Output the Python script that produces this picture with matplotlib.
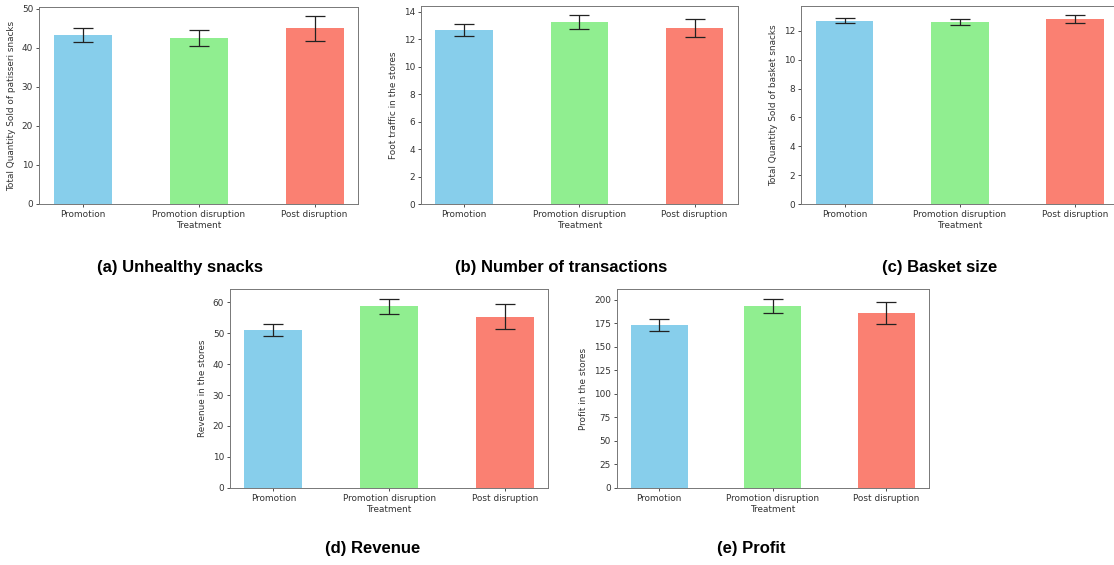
import matplotlib
matplotlib.use("Agg")
import matplotlib.pyplot as plt

# Treatment groups shared by every panel
treatments = ["Promotion", "Promotion disruption", "Post disruption"]
bar_colors = ["skyblue", "lightgreen", "salmon"]

# Means and standard errors per treatment
snacks_mean = [43.4, 42.5, 45.0]
snacks_err = [1.75, 2.05, 3.1]

transactions_mean = [12.7, 13.25, 12.8]
transactions_err = [0.43, 0.5, 0.67]

basket_mean = [12.7, 12.62, 12.8]
basket_err = [0.17, 0.2, 0.27]

revenue_mean = [51.0, 58.7, 55.4]
revenue_err = [2.0, 2.5, 3.95]

profit_mean = [172.5, 193.0, 185.7]
profit_err = [6.4, 7.8, 12.0]

W, H = 1114, 565
fig = plt.figure(figsize=(W / 100, H / 100), dpi=100)


def px_axes(left, right, top, bottom):
    return fig.add_axes([left / W, 1 - bottom / H, (right - left) / W, (bottom - top) / H])


def draw_panel(ax, means, errs, ylabel):
    x = list(range(len(treatments)))
    ax.bar(x, means, width=0.5, color=bar_colors,
           yerr=errs, capsize=7,
           error_kw=dict(ecolor="#222222", elinewidth=0.9, capthick=0.9))
    ax.set_xticks(x)
    ax.set_xticklabels(treatments)
    ax.set_xlabel("Treatment", fontsize=6.4, labelpad=1.5, color="#333333")
    ax.set_ylabel(ylabel, fontsize=6.4, labelpad=4, color="#333333")
    ax.tick_params(labelsize=6.4, length=2.3, width=0.6, pad=2, colors="#333333")
    for s in ax.spines.values():
        s.set_linewidth(0.7)
        s.set_color("#777777")


panels = [
    ((39, 358, 7, 204), snacks_mean, snacks_err, "Total Quantity Sold of patisseri snacks"),
    ((421, 737.7, 5.7, 204.3), transactions_mean, transactions_err, "Foot traffic in the stores"),
    ((801.3, 1118.5, 5.7, 204.3), basket_mean, basket_err, "Total Quantity Sold of basket snacks"),
    ((230, 548.3, 289.3, 487.7), revenue_mean, revenue_err, "Revenue in the stores"),
    ((616.7, 929, 289.3, 487.7), profit_mean, profit_err, "Profit in the stores"),
]

for box, m, e, lab in panels:
    ax = px_axes(*box)
    draw_panel(ax, m, e, lab)

captions = [
    ("(a) Unhealthy snacks", 180, 268),
    ("(b) Number of transactions", 561.5, 268),
    ("(c) Basket size", 940, 268),
    ("(d) Revenue", 373, 548),
    ("(e) Profit", 751, 548),
]
for txt, cx, cy in captions:
    fig.text(cx / W, 1 - cy / H, txt, ha="center", va="center",
             fontsize=12, fontweight="bold", family=["Liberation Sans", "DejaVu Sans"])

fig.savefig("out.png", dpi=100)
